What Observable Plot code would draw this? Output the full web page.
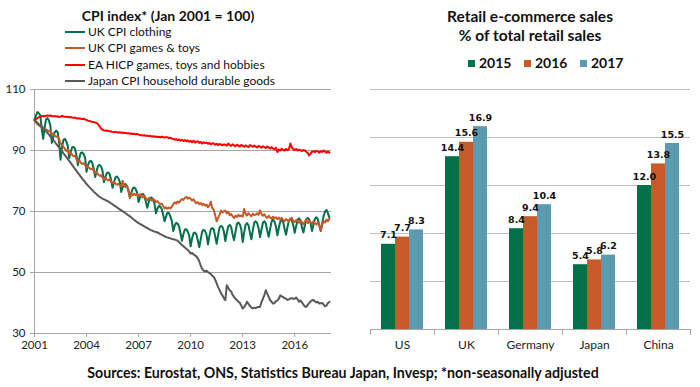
<!DOCTYPE html>
<html>
<head>
<meta charset="utf-8">
<script src="https://cdn.jsdelivr.net/npm/d3@7"></script>
<script src="https://cdn.jsdelivr.net/npm/@observablehq/plot@0.6"></script>
<style>
  html, body { margin: 0; padding: 0; background: #fff; }
  #root { position: relative; width: 700px; height: 387px; background: #fff; font-family: Lato, "Open Sans", sans-serif; color: #111; overflow: hidden; }
  .abs { position: absolute; white-space: nowrap; }
  .title { font-weight: bold; font-size: 14px; text-align: center; line-height: 18px; }
  .leg1 { font-size: 12px; line-height: 16px; }
  .leg1 .sw { display: inline-block; width: 20px; height: 2px; vertical-align: middle; margin-right: 3px; position: relative; top: -1px; }
  .leg2 { font-size: 14px; font-weight: bold; line-height: 16px; }
  .leg2 .sq { display: inline-block; width: 7px; height: 7px; margin-right: 4px; position: relative; top: -1px; }
</style>
</head>
<body>
<div id="root"></div>
<script>
// ---------- Left chart data (monthly, Jan 2001 = first value) ----------
const startYear = 2001;
const seriesNames = ["UK CPI clothing", "UK CPI games & toys", "EA HICP games, toys and hobbies", "Japan CPI household durable goods"];
const seriesColors = ["#02704B", "#C55A28", "#FF0000", "#595959"];
const yearTicks = [2001, 2004, 2007, 2010, 2013, 2016];
const cpiTicks = [30, 50, 70, 90, 110];

const ukClothing = [
  100.0, 101.4, 102.6, 102.2, 101.5, 97.2, 93.8, 97.5, 100.2, 100.6, 99.8, 98.1,
  92.5, 94.4, 96.0, 96.5, 96.0, 93.0, 87.0, 91.0, 93.5, 93.8, 93.0, 91.5,
  87.5, 89.5, 91.0, 91.2, 90.6, 88.5, 85.2, 87.5, 89.2, 89.4, 88.8, 87.6,
  83.0, 85.2, 86.4, 86.6, 85.9, 83.8, 81.3, 83.4, 85.0, 85.3, 84.8, 83.5,
  79.6, 81.3, 82.6, 82.8, 82.2, 80.3, 77.8, 79.6, 81.2, 81.5, 80.9, 79.7,
  76.4, 77.9, 78.8, 79.0, 78.4, 76.6, 74.5, 76.2, 77.6, 77.9, 77.3, 76.2,
  73.1, 74.6, 75.6, 75.8, 75.1, 73.3, 71.2, 73.0, 74.4, 74.6, 73.9, 72.6,
  69.4, 70.9, 71.8, 71.6, 70.8, 68.9, 66.8, 68.4, 69.6, 69.5, 68.4, 66.8,
  63.6, 65.4, 66.3, 66.0, 65.1, 62.8, 60.4, 62.6, 64.1, 64.2, 63.4, 62.2,
  58.6, 61.2, 62.9, 63.1, 62.5, 60.4, 58.3, 61.0, 63.5, 64.0, 63.6, 62.3,
  59.2, 62.0, 64.2, 64.6, 64.1, 61.7, 59.4, 62.3, 64.8, 65.3, 64.9, 63.4,
  60.3, 62.9, 65.1, 65.6, 65.0, 62.5, 60.6, 63.2, 65.9, 66.4, 65.8, 64.3,
  60.0, 63.0, 65.6, 66.2, 65.5, 63.1, 60.9, 63.8, 66.3, 66.8, 66.2, 64.6,
  61.6, 64.0, 66.3, 66.8, 66.1, 63.7, 61.7, 64.3, 66.7, 67.3, 66.7, 65.1,
  62.2, 64.6, 66.7, 67.2, 66.6, 64.3, 62.4, 64.9, 67.1, 67.6, 67.0, 65.5,
  63.0, 65.2, 67.3, 67.8, 67.1, 64.8, 63.1, 65.4, 67.5, 67.9, 67.4, 66.0,
  63.6, 65.8, 67.6, 68.1, 67.5, 65.4, 63.6, 66.1, 68.6, 70.0, 70.5, 69.4,
  68.0
];

const ukToys = [
  100.0, 99.2, 98.6, 98.3, 97.9, 98.1, 97.2, 96.8, 96.9, 96.6, 96.2, 96.4,
  95.3, 95.6, 94.9, 94.5, 94.6, 93.8, 92.4, 91.9, 91.2, 90.6, 89.8, 90.3,
  88.9, 89.4, 88.6, 88.1, 88.3, 87.2, 86.3, 86.8, 86.0, 85.6, 85.9, 85.2,
  84.4, 84.8, 84.2, 83.9, 84.1, 83.3, 82.6, 82.9, 82.1, 81.7, 81.9, 81.2,
  80.6, 81.1, 80.5, 80.2, 80.6, 79.8, 79.3, 79.7, 79.2, 78.8, 79.1, 78.6,
  78.2, 80.1, 78.6, 78.0, 78.3, 77.2, 74.4, 75.8, 75.3, 75.9, 75.4, 75.8,
  74.9, 75.6, 75.1, 74.6, 75.2, 74.3, 73.7, 74.4, 74.0, 73.6, 74.2, 73.8,
  73.1, 73.4, 72.8, 72.3, 72.6, 71.8, 71.0, 71.4, 70.9, 71.3, 71.0, 71.6,
  72.4, 73.0, 72.6, 73.3, 72.9, 73.6, 74.1, 73.8, 74.5, 74.8, 74.2, 74.6,
  74.2, 73.6, 74.0, 73.2, 72.7, 73.1, 72.4, 72.8, 72.1, 72.5, 71.9, 72.3,
  71.4, 72.0, 73.2, 71.1, 70.5, 68.8, 66.8, 67.9, 69.0, 70.3, 69.7, 70.1,
  70.3, 69.4, 69.9, 68.8, 69.2, 68.5, 67.9, 68.6, 68.2, 68.9, 68.4, 68.7,
  68.3, 70.8, 69.2, 68.7, 69.5, 68.9, 68.4, 69.3, 68.8, 69.0, 69.4, 68.9,
  70.4, 69.2, 68.6, 69.1, 68.3, 67.9, 68.6, 68.0, 67.6, 68.3, 67.8, 68.1,
  67.5, 68.0, 67.3, 67.9, 67.2, 66.8, 67.5, 67.1, 66.7, 67.6, 67.9, 66.9,
  66.5, 67.2, 66.8, 66.3, 67.0, 66.4, 65.8, 66.7, 67.3, 66.2, 66.9, 66.5,
  66.0, 66.8, 66.2, 65.7, 66.5, 65.5, 63.8, 65.6, 66.9, 66.4, 67.4, 66.8,
  67.6
];

const eaToys = [
  100.0, 100.3, 100.6, 100.9, 101.1, 101.2, 101.3, 101.2, 101.4, 101.5, 101.4, 101.5,
  101.3, 101.2, 101.3, 101.1, 101.2, 101.0, 101.1, 101.3, 101.2, 101.0, 101.1, 101.0,
  100.9, 101.0, 100.8, 100.7, 100.8, 100.6, 100.5, 100.6, 100.4, 100.3, 100.4, 100.2,
  100.0, 99.8, 99.7, 99.5, 99.4, 99.3, 99.2, 99.0, 98.6, 97.9, 97.2, 96.8,
  96.6, 96.5, 96.6, 96.4, 96.3, 96.2, 96.1, 96.0, 96.1, 96.0, 95.9, 96.0,
  95.8, 95.9, 95.7, 95.8, 95.6, 95.7, 95.5, 95.6, 95.4, 95.5, 95.3, 95.4,
  95.2, 95.1, 95.0, 94.9, 95.0, 94.8, 94.9, 94.7, 94.8, 94.6, 94.7, 94.5,
  94.6, 94.4, 94.5, 94.3, 94.5, 94.4, 94.2, 94.4, 94.3, 94.1, 94.2, 93.9,
  93.8, 93.6, 93.7, 93.4, 93.6, 93.2, 93.5, 93.1, 93.4, 93.0, 93.3, 92.9,
  93.1, 92.7, 93.2, 92.6, 92.9, 93.0, 92.5, 92.8, 92.3, 92.7, 92.4, 92.6,
  92.2, 92.5, 92.0, 92.4, 92.3, 91.9, 92.2, 91.8, 92.1, 92.0, 91.7, 92.0,
  91.9, 91.6, 92.3, 91.8, 91.5, 92.0, 91.7, 91.4, 91.9, 91.6, 91.3, 91.8,
  91.6, 91.2, 91.7, 91.4, 91.1, 91.8, 91.5, 91.2, 91.6, 91.3, 91.0, 91.5,
  91.3, 90.9, 91.4, 91.1, 90.8, 91.3, 91.0, 90.7, 91.1, 90.6, 90.4, 90.9,
  89.5, 90.3, 90.0, 90.6, 90.2, 90.0, 90.5, 90.1, 90.4, 92.3, 91.0, 90.4,
  90.2, 90.5, 90.0, 90.3, 90.1, 89.8, 90.2, 90.0, 89.6, 89.2, 88.4, 89.0,
  89.6, 89.8, 89.4, 89.9, 89.7, 89.3, 89.8, 89.5, 90.0, 89.6, 89.3, 89.7,
  89.3
];

const japanDurables = [
  100.0, 99.6, 99.1, 98.6, 98.1, 97.7, 97.2, 96.7, 96.3, 95.8, 95.2, 94.6,
  94.0, 93.4, 92.8, 92.2, 91.6, 91.0, 90.4, 89.8, 89.1, 88.5, 87.9, 87.2,
  86.6, 86.0, 85.3, 84.6, 84.0, 83.3, 82.7, 82.1, 81.4, 80.8, 80.2, 79.6,
  79.0, 78.5, 78.0, 77.5, 77.0, 76.5, 76.1, 75.6, 75.2, 74.8, 74.5, 74.2,
  74.0, 73.8, 73.5, 73.3, 73.0, 72.6, 72.4, 72.0, 71.7, 71.4, 71.0, 70.7,
  70.4, 70.1, 69.8, 69.4, 69.1, 68.7, 68.4, 68.0, 67.6, 67.2, 66.9, 66.5,
  66.2, 65.9, 65.7, 65.4, 65.1, 64.8, 64.6, 64.3, 64.0, 63.8, 63.6, 63.4,
  63.3, 63.1, 62.9, 62.6, 62.4, 62.1, 61.9, 61.6, 61.5, 61.3, 61.2, 61.0,
  60.9, 60.8, 60.6, 60.4, 60.0, 59.5, 59.0, 58.6, 58.2, 57.8, 57.4, 56.9,
  56.2, 56.4, 55.9, 55.6, 55.3, 54.6, 53.6, 52.2, 51.2, 50.6, 50.3, 50.6,
  50.1, 49.8, 49.5, 48.9, 48.5, 47.6, 46.4, 45.2, 44.3, 43.2, 42.5, 41.6,
  40.9, 45.8, 45.0, 44.2, 43.8, 42.7, 42.0, 41.4, 41.0, 40.4, 40.1, 39.2,
  38.2, 38.6, 39.4, 40.4, 39.7, 39.0, 38.5, 38.2, 38.5, 38.3, 38.6, 38.7,
  38.7, 40.3, 41.4, 42.6, 44.2, 43.1, 42.0, 40.9, 40.4, 39.8, 39.9, 40.6,
  40.8, 41.4, 42.5, 42.2, 41.9, 41.6, 41.4, 41.0, 41.2, 41.5, 41.6, 41.4,
  41.4, 41.8, 41.2, 40.4, 40.8, 40.2, 39.5, 38.9, 38.7, 39.4, 40.0, 40.5,
  40.9, 41.0, 40.5, 40.2, 40.4, 39.8, 39.9, 40.0, 39.5, 38.9, 39.2, 40.0,
  40.4
];

// ---------- Right chart data ----------
const countries = ["US", "UK", "Germany", "Japan", "China"];
const barYears = ["2015", "2016", "2017"];
const sales2015 = [7.1, 14.4, 8.4, 5.4, 12.0];
const sales2016 = [7.7, 15.6, 9.4, 5.8, 13.8];
const sales2017 = [8.3, 16.9, 10.4, 6.2, 15.5];
const barColors = ["#02704B", "#C65A28", "#5B9AAF"];
const salesTicks = [4, 8, 12, 16, 20];

// ---------- Texts ----------
const leftTitle = "CPI index* (Jan 2001 = 100)";
const rightTitle1 = "Retail e-commerce sales";
const rightTitle2 = "% of total retail sales";
const caption = "Sources: Eurostat, ONS, Statistics Bureau Japan, Invesp; *non-seasonally adjusted";

// ---------- Build tables ----------
const lineData = [];
[ukClothing, ukToys, eaToys, japanDurables].forEach((arr, s) => {
  arr.forEach((v, i) => lineData.push({ t: startYear + i / 12, v, s: seriesNames[s] }));
});
const barData = [];
countries.forEach((c, i) => {
  [sales2015, sales2016, sales2017].forEach((arr, j) => barData.push({ country: c, year: barYears[j], value: arr[i] }));
});

const root = document.getElementById("root");
function addDiv(cls, style, html) {
  const d = document.createElement("div");
  d.className = "abs " + cls;
  d.setAttribute("style", style);
  d.innerHTML = html;
  root.appendChild(d);
  return d;
}

// ---------- Left plot ----------
const left = Plot.plot({
  width: 345, height: 280,
  marginTop: 9, marginBottom: 27, marginLeft: 34, marginRight: 14,
  style: { fontFamily: "Lato, sans-serif", fontSize: "11.5px", color: "#222", background: "transparent", overflow: "visible" },
  x: { domain: [2001, 2018.12] },
  y: { domain: [30, 110] },
  color: { domain: seriesNames, range: seriesColors },
  marks: [
    Plot.gridY(cpiTicks.slice(1), { stroke: "#a6a6a6", strokeOpacity: 1 }),
    Plot.ruleY([30], { stroke: "#a6a6a6" }),
    Plot.ruleX([2001], { stroke: "#a6a6a6" }),
    Plot.axisY({ ticks: cpiTicks, tickSize: 4, tickPadding: 5, stroke: "#a6a6a6", fill: "#222", label: null }),
    Plot.axisX({ ticks: yearTicks, tickSize: 4, tickPadding: 3, tickFormat: d => String(d), stroke: "#a6a6a6", fill: "#222", label: null }),
    Plot.line(lineData, { x: "t", y: "v", z: "s", stroke: "s", strokeWidth: 2 })
  ]
});
const leftWrap = addDiv("", "left:0px;top:80px;", "");
leftWrap.appendChild(left);

// ---------- Right plot ----------
const right = Plot.plot({
  width: 350, height: 280,
  marginTop: 9, marginBottom: 31, marginLeft: 18, marginRight: 8,
  style: { fontFamily: "Lato, sans-serif", fontSize: "12px", color: "#222", background: "transparent", overflow: "visible" },
  fx: { domain: countries, padding: 0, label: null },
  x: { domain: barYears, paddingInner: 0, paddingOuter: 0.77, axis: null },
  y: { domain: [0, 20], axis: null },
  color: { domain: barYears, range: barColors },
  marks: [
    Plot.gridY(salesTicks, { stroke: "#bfbfbf", strokeOpacity: 1 }),
    Plot.barY(barData, { fx: "country", x: "year", y: "value", fill: "year" }),
    Plot.text(barData, { fx: "country", x: "year", y: "value", text: d => d.value.toFixed(1), dy: -6, lineAnchor: "bottom", fontWeight: "bold", fontFamily: "DejaVu Sans, sans-serif", fontSize: 9.5, fill: "#111" }),
    Plot.ruleY([0], { stroke: "#a6a6a6" }),
    Plot.frame({ anchor: "left", insetTop: 240, insetBottom: -5, stroke: "#a6a6a6" }),
    Plot.frame({ anchor: "right", insetTop: 240, insetBottom: -5, stroke: "#a6a6a6" }),
    Plot.axisFx({ anchor: "bottom", tickSize: 0, tickPadding: 11, fontSize: 12, fill: "#222", label: null })
  ]
});
const rightWrap = addDiv("", "left:350px;top:80px;", "");
rightWrap.appendChild(right);

// ---------- Titles, legends, caption ----------
addDiv("title", "left:0px;width:336px;top:7px;", leftTitle);
seriesNames.forEach((name, i) => {
  addDiv("leg1", `left:65px;top:${24 + i * 16.3}px;`,
    `<span class="sw" style="background:${seriesColors[i]}"></span>${name}`);
});
addDiv("title", "left:350px;width:360px;top:7px;font-size:15.5px;", rightTitle1);
addDiv("title", "left:350px;width:360px;top:26px;font-size:15.5px;", rightTitle2);
barYears.forEach((y, i) => {
  addDiv("leg2", `left:${468 + i * 56}px;top:55px;`,
    `<span class="sq" style="background:${barColors[i]}"></span>${y}`);
});
addDiv("title", "left:0px;width:686px;top:364px;font-size:14.2px;", caption);
</script>
</body>
</html>
